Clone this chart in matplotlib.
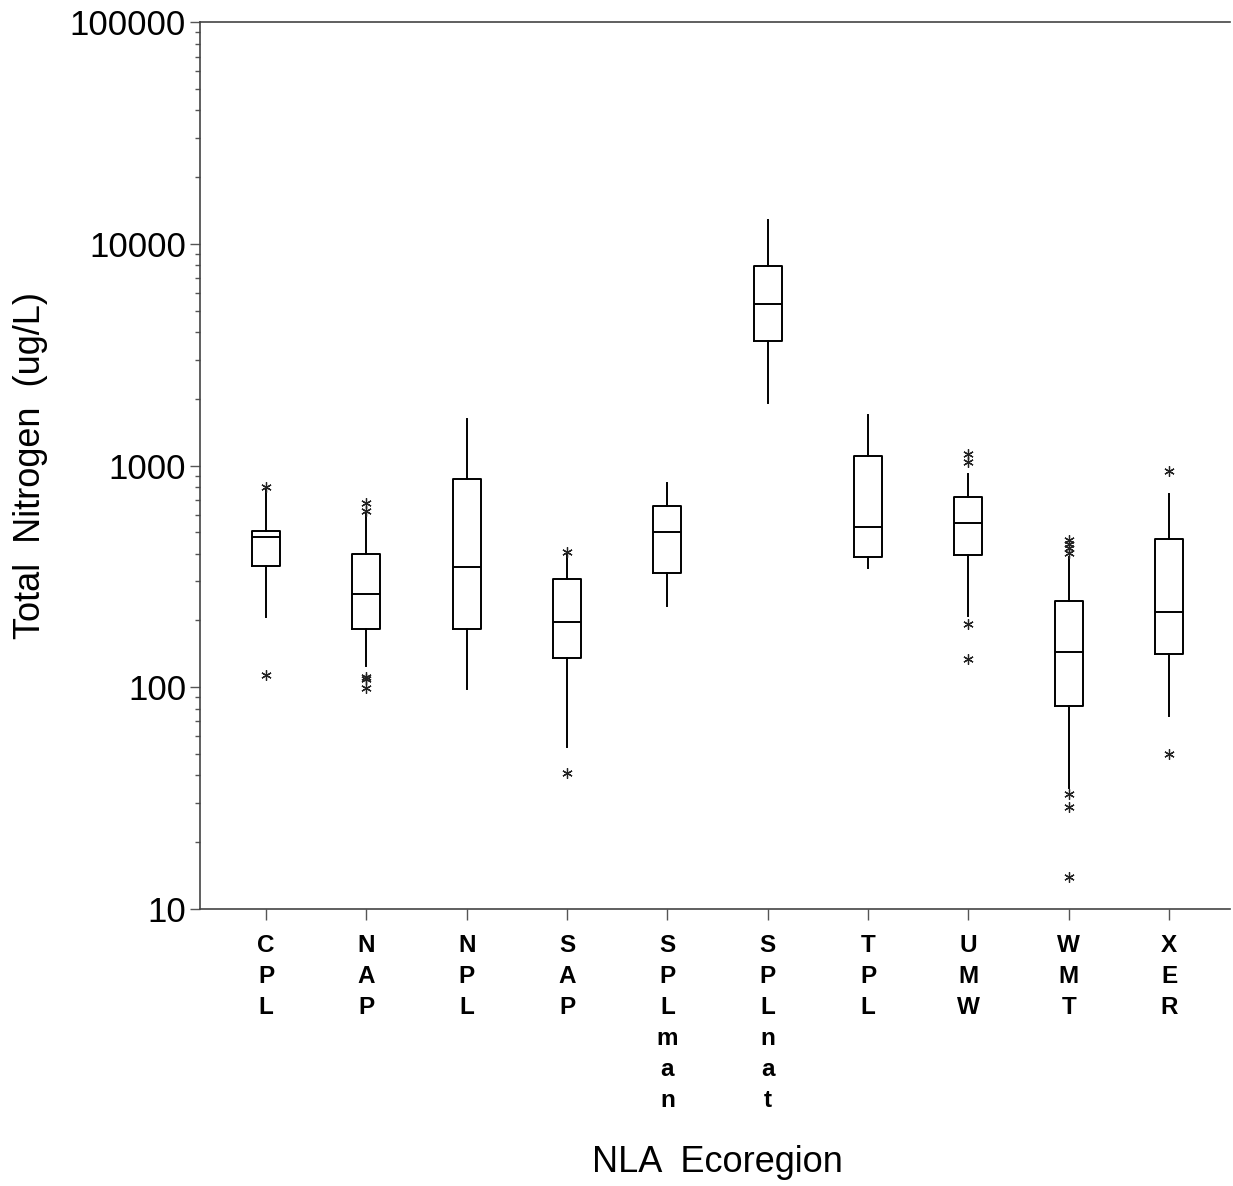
import numpy as np
import matplotlib.pyplot as plt

# ------------------------------------------------------------
#  data
# ------------------------------------------------------------
regions  = ['CPL', 'NAP', 'NPL', 'SAP', 'SPLman', 'SPLnat', 'TPL', 'UMW', 'WMT', 'XER']
wlo      = [208, 125, 98, 53.5, 232, 1909, 346, 210, 35, 74]
q1       = [353, 182, 182, 136, 326, 3633, 388, 394, 82.4, 141.5]
med      = [474, 262, 347, 197, 500, 5340, 526, 548, 143.6, 218]
q3       = [505, 397, 867, 306, 657, 7925, 1101, 719, 244, 464]
whi      = [790, 620, 1622, 405, 831, 12820, 1690, 916, 388, 744]
outliers = [[802, 113],
            [675, 625, 111, 109, 98.8],
            [],
            [408, 40.8],
            [],
            [],
            [],
            [1124, 1040, 193, 134],
            [461, 443, 424, 402, 33.0, 28.8, 13.9],
            [948, 49.9]]

plt.rcParams['font.family'] = ['Liberation Sans', 'DejaVu Sans']

# ------------------------------------------------------------
#  plot
# ------------------------------------------------------------
fig = plt.figure(figsize=(12.33, 11.86), dpi=100)
ax = fig.add_axes([0.1622, 0.2338, 0.8354, 0.7474])

stats = []
for i in range(len(regions)):
    stats.append(dict(med=med[i], q1=q1[i], q3=q3[i],
                      whislo=wlo[i], whishi=whi[i], fliers=outliers[i]))

pos = np.arange(1, len(regions) + 1)
lw = 1.4
ax.bxp(stats, positions=pos, widths=0.28, showcaps=False,
       boxprops=dict(color='black', linewidth=lw),
       whiskerprops=dict(color='black', linewidth=lw),
       medianprops=dict(color='black', linewidth=lw),
       flierprops=dict(marker=(6, 2, 0), markersize=7.5, markeredgecolor='#222222',
                       markeredgewidth=0.9, linestyle='none'))

ax.set_yscale('log')
ax.set_ylim(10, 100000)
ax.set_xlim(0.342, 10.608)

ax.set_yticks([10, 100, 1000, 10000, 100000])
ax.set_yticklabels(['10', '100', '1000', '10000', '100000'], fontsize=25)
ax.set_xticks(pos)
ax.set_xticklabels(['\n'.join(r) for r in regions], fontsize=17.5, fontweight='bold',
                   linespacing=1.45, va='top')

ax.tick_params(axis='y', which='major', direction='out', length=7, width=1, pad=3,
               color='#555555')
ax.tick_params(axis='y', which='minor', direction='out', length=3.5, width=1,
               color='#555555')
ax.tick_params(axis='x', which='major', direction='out', length=8, width=1, pad=10,
               color='#555555')

ax.spines['right'].set_visible(False)
for s in ['left', 'bottom', 'top']:
    ax.spines[s].set_color('#444444')
    ax.spines[s].set_linewidth(1.2)

ax.set_ylabel('Total  Nitrogen  (ug/L)', fontsize=26, labelpad=16)
fig.text(0.5815, 0.0202, 'NLA  Ecoregion', fontsize=26, ha='center', va='center')

plt.savefig('out.png', dpi=100)
